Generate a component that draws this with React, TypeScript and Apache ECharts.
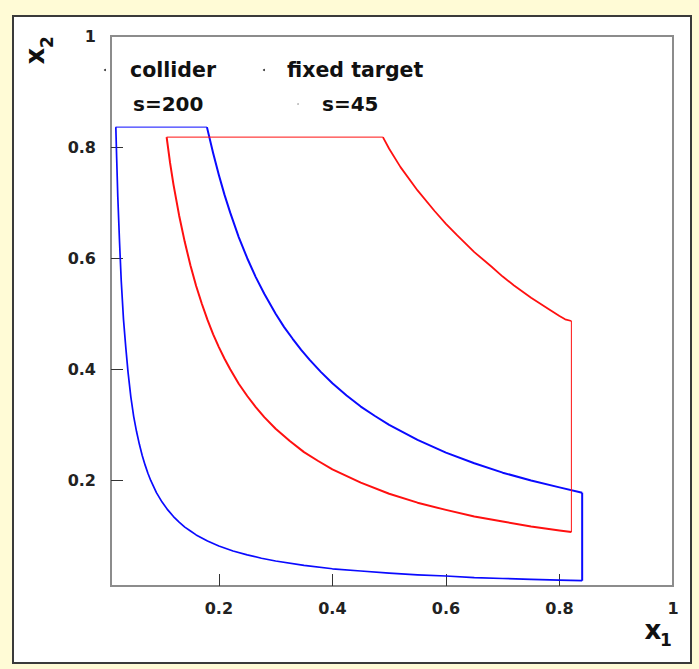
import React, { useEffect, useRef } from "react";
import * as echarts from "echarts";

// Tick positions and labels
const xTickValues = [0.2, 0.4, 0.6, 0.8];
const xLabelValues = [0.2, 0.4, 0.6, 0.8, 1];
const yTickValues = [0.2, 0.4, 0.6, 0.8];
const yLabelValues = [0.2, 0.4, 0.6, 0.8, 1];

// Collider, s=200 (blue)
const colliderTop = [[0.018, 0.836], [0.179, 0.836]];
const colliderUpper = [
  [0.179, 0.836], [0.19, 0.789], [0.2, 0.75], [0.21, 0.714], [0.22, 0.682], [0.235, 0.638],
  [0.25, 0.6], [0.265, 0.566], [0.28, 0.536], [0.3, 0.5], [0.315, 0.476], [0.33, 0.455],
  [0.345, 0.435], [0.36, 0.417], [0.38, 0.395], [0.4, 0.375], [0.425, 0.353], [0.45, 0.333],
  [0.475, 0.316], [0.5, 0.3], [0.55, 0.273], [0.6, 0.25], [0.65, 0.231], [0.7, 0.214],
  [0.75, 0.2], [0.8, 0.1875], [0.84, 0.178],
];
const colliderRight = [[0.84, 0.178], [0.84, 0.0195]];
const colliderLower = [
  [0.0185, 0.836], [0.02, 0.78], [0.022, 0.71], [0.025, 0.63], [0.028, 0.56], [0.032, 0.49],
  [0.036, 0.44], [0.04, 0.395], [0.045, 0.35], [0.05, 0.315], [0.055, 0.288], [0.06, 0.265],
  [0.065, 0.245], [0.07, 0.228], [0.075, 0.213], [0.08, 0.2], [0.09, 0.178], [0.1, 0.161],
  [0.11, 0.147], [0.12, 0.135], [0.13, 0.125], [0.14, 0.116], [0.15, 0.109], [0.16, 0.102],
  [0.18, 0.091], [0.2, 0.082], [0.225, 0.073], [0.25, 0.066], [0.275, 0.06], [0.3, 0.055],
  [0.35, 0.047], [0.4, 0.041], [0.45, 0.037], [0.5, 0.033], [0.55, 0.03], [0.6, 0.028],
  [0.65, 0.025], [0.7, 0.0235], [0.75, 0.022], [0.8, 0.0205], [0.84, 0.0195],
];

// Fixed target, s=45 (red)
const fixedTop = [[0.108, 0.818], [0.489, 0.818]];
const fixedUpper = [
  [0.489, 0.818], [0.5, 0.797], [0.52, 0.764], [0.55, 0.722], [0.58, 0.685], [0.6, 0.662],
  [0.62, 0.641], [0.65, 0.611], [0.68, 0.585], [0.7, 0.567], [0.72, 0.551], [0.75, 0.529],
  [0.78, 0.509], [0.8, 0.496], [0.81, 0.49], [0.821, 0.487],
];
const fixedRight = [[0.821, 0.487], [0.821, 0.107]];
const fixedLower = [
  [0.108, 0.818], [0.114, 0.772], [0.12, 0.733], [0.13, 0.677], [0.14, 0.629], [0.15, 0.587],
  [0.16, 0.55], [0.17, 0.518], [0.18, 0.489], [0.19, 0.463], [0.2, 0.44], [0.21, 0.419],
  [0.22, 0.4], [0.235, 0.374], [0.25, 0.352], [0.265, 0.332], [0.28, 0.314], [0.3, 0.293],
  [0.325, 0.271], [0.35, 0.251], [0.375, 0.235], [0.4, 0.22], [0.45, 0.196], [0.5, 0.176],
  [0.55, 0.16], [0.6, 0.147], [0.65, 0.135], [0.7, 0.126], [0.75, 0.117], [0.8, 0.11],
  [0.821, 0.107],
];

const BLUE = "#0a0aff";
const RED = "#ff1010";
const FONT = '"DejaVu Sans", "Liberation Sans", sans-serif';

function lineSeries(data: number[][], color: string, width: number) {
  return {
    type: "line",
    data,
    showSymbol: false,
    symbol: "none",
    smooth: false,
    silent: true,
    lineStyle: { color, width, join: "round" },
    z: 3,
  };
}

export default function App() {
  const ref = useRef<HTMLDivElement>(null);

  useEffect(() => {
    if (!ref.current) return;
    const chart = echarts.init(ref.current, undefined, { renderer: "svg" });
    const labelStyle = {
      fontFamily: FONT,
      fontWeight: "bold",
      fontSize: 16,
      color: "#222",
    };
    chart.setOption({
      animation: false,
      backgroundColor: "transparent",
      grid: {
        left: 111,
        top: 36,
        right: 26,
        bottom: 83,
        show: true,
        borderColor: "#8c8c8c",
        borderWidth: 2,
        backgroundColor: "#ffffff",
      },
      xAxis: {
        type: "value",
        min: 0.01,
        max: 1,
        axisLine: { show: true, lineStyle: { color: "#8c8c8c", width: 2 } },
        axisTick: {
          show: true,
          inside: true,
          length: 12,
          customValues: xTickValues,
          lineStyle: { color: "#333", width: 1 },
        },
        axisLabel: {
          ...labelStyle,
          margin: 14,
          customValues: xLabelValues,
          formatter: (v: number) => String(v),
        },
        splitLine: { show: false },
      },
      yAxis: {
        type: "value",
        min: 0.01,
        max: 1,
        axisLine: { show: true, lineStyle: { color: "#8c8c8c", width: 2 } },
        axisTick: {
          show: true,
          inside: true,
          length: 12,
          customValues: yTickValues,
          lineStyle: { color: "#333", width: 1 },
        },
        axisLabel: {
          ...labelStyle,
          margin: 15,
          customValues: yLabelValues,
          formatter: (v: number) => String(v),
        },
        splitLine: { show: false },
      },
      series: [
        lineSeries(colliderTop, BLUE, 1),
        lineSeries(colliderUpper, BLUE, 2),
        lineSeries(colliderRight, BLUE, 2),
        lineSeries(colliderLower, BLUE, 1.7),
        lineSeries(fixedTop, RED, 1),
        lineSeries(fixedUpper, RED, 1.8),
        lineSeries(fixedRight, RED, 1),
        lineSeries(fixedLower, RED, 2),
      ],
      graphic: [
        {
          type: "text",
          x: 130,
          y: 70,
          style: { text: "collider", font: `bold 20.5px ${FONT}`, fill: "#111", verticalAlign: "middle", align: "left" },
        },
        {
          type: "text",
          x: 133,
          y: 104,
          style: { text: "s=200", font: `bold 20px ${FONT}`, fill: "#111", verticalAlign: "middle", align: "left" },
        },
        {
          type: "text",
          x: 287,
          y: 70,
          style: { text: "fixed target", font: `bold 20.5px ${FONT}`, fill: "#111", verticalAlign: "middle", align: "left" },
        },
        {
          type: "text",
          x: 322,
          y: 104,
          style: { text: "s=45", font: `bold 20px ${FONT}`, fill: "#111", verticalAlign: "middle", align: "left" },
        },
        { type: "circle", shape: { cx: 105, cy: 70, r: 1 }, style: { fill: "#333" } },
        { type: "circle", shape: { cx: 264, cy: 70, r: 1 }, style: { fill: "#333" } },
        { type: "circle", shape: { cx: 298, cy: 104, r: 0.8 }, style: { fill: "#aaa" } },
        // axis title x1
        {
          type: "text",
          x: 653,
          y: 630,
          style: { text: "x", font: `bold 26px ${FONT}`, fill: "#111", verticalAlign: "middle", align: "center" },
        },
        {
          type: "text",
          x: 666,
          y: 640,
          style: { text: "1", font: `bold 17px ${FONT}`, fill: "#111", verticalAlign: "middle", align: "center" },
        },
        // axis title x2 (rotated)
        {
          type: "text",
          x: 35,
          y: 56,
          rotation: Math.PI / 2,
          style: { text: "x", font: `bold 26px ${FONT}`, fill: "#111", verticalAlign: "middle", align: "center" },
        },
        {
          type: "text",
          x: 47,
          y: 42,
          rotation: Math.PI / 2,
          style: { text: "2", font: `bold 17px ${FONT}`, fill: "#111", verticalAlign: "middle", align: "center" },
        },
      ],
    });
    return () => chart.dispose();
  }, []);

  return (
    <div
      style={{
        position: "absolute",
        left: 0,
        top: 0,
        width: 699,
        height: 669,
        background: "#fffbd6",
      }}
    >
      <div
        style={{
          position: "absolute",
          left: 12,
          top: 15,
          width: 676,
          height: 645,
          background: "#ffffff",
          border: "2px solid #3a3a3a",
        }}
      />
      <div ref={ref} style={{ position: "absolute", left: 0, top: 0, width: 699, height: 669 }} />
    </div>
  );
}
